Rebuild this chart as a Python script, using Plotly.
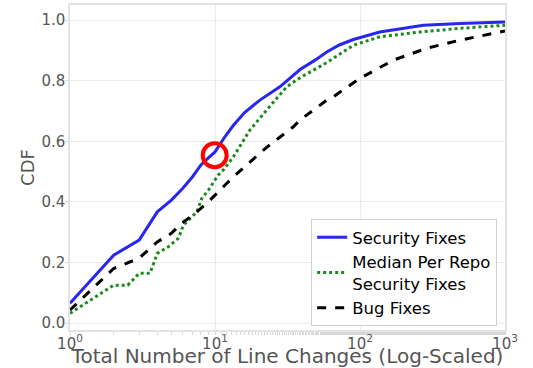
import plotly.graph_objects as go

# Security Fixes (blue, solid)
sec_x = [1, 2, 3, 4, 5, 6, 7, 8, 9, 10, 11.7, 13.4, 16, 20.4, 28, 38.6, 49, 59, 72, 90, 137, 200, 274, 490, 1000]
sec_y = [0.065, 0.224, 0.274, 0.367, 0.406, 0.445, 0.483, 0.522, 0.545, 0.565, 0.615, 0.653, 0.695, 0.736, 0.78,
         0.837, 0.868, 0.895, 0.918, 0.936, 0.961, 0.974, 0.983, 0.989, 0.994]

# Median Per Repo Security Fixes (green, dotted)
med_x = [1, 1.27, 2, 2.5, 3, 3.56, 4, 4.77, 5.6, 6.05, 7.5, 8.1, 9, 10.5, 11.4, 13.4, 17.4, 22.7, 31.2, 38.6,
         59, 90, 137, 260, 490, 1000]
med_y = [0.032, 0.065, 0.125, 0.125, 0.164, 0.164, 0.23, 0.252, 0.28, 0.323, 0.367, 0.411, 0.439, 0.488, 0.505,
         0.549, 0.637, 0.703, 0.78, 0.81, 0.86, 0.917, 0.945, 0.961, 0.973, 0.983]

# Bug Fixes (black, dashed)
bug_x = [1, 2, 3, 4, 5, 5.9, 7.5, 9, 11.7, 13.4, 22.7, 34.7, 38.6, 59, 65.5, 100, 170, 288, 490, 1000]
bug_y = [0.043, 0.18, 0.214, 0.268, 0.296, 0.329, 0.367, 0.4, 0.455, 0.483, 0.58, 0.648, 0.67, 0.736, 0.747,
         0.808, 0.868, 0.907, 0.934, 0.964]

# highlighted point (red circle)
hl_x = [9.95]
hl_y = [0.554]

x_tickvals = [1, 10, 100, 1000]
x_ticktext = ["10<sup>0</sup>", "10<sup>1</sup>", "10<sup>2</sup>", "10<sup>3</sup>"]
y_tickvals = [0.0, 0.2, 0.4, 0.6, 0.8, 1.0]
y_ticktext = ["0.0", "0.2", "0.4", "0.6", "0.8", "1.0"]

FONT = "DejaVu Sans"
TXT = "#555555"

fig = go.Figure()
fig.add_trace(go.Scatter(x=sec_x, y=sec_y, mode="lines", name="Security Fixes",
                         line=dict(color="#2727f0", width=3)))
fig.add_trace(go.Scatter(x=med_x, y=med_y, mode="lines", name="Median Per Repo<br>Security Fixes",
                         line=dict(color="#1a8a1a", width=3, dash="dot")))
fig.add_trace(go.Scatter(x=bug_x, y=bug_y, mode="lines", name="Bug Fixes",
                         line=dict(color="black", width=3, dash="dash")))
fig.add_trace(go.Scatter(x=hl_x, y=hl_y, mode="markers", showlegend=False,
                         marker=dict(symbol="circle-open", size=24, color="red",
                                     line=dict(color="red", width=4))))

fig.update_layout(
    width=533, height=368,
    margin=dict(l=70, r=28, t=5, b=38),
    paper_bgcolor="white", plot_bgcolor="white",
    font=dict(family=FONT, color=TXT, size=15),
    legend=dict(x=0.982, y=0.012, xanchor="right", yanchor="bottom",
                bgcolor="white", bordercolor="#d0d0d0", borderwidth=1,
                font=dict(family=FONT, size=16.5, color="black"),
                tracegroupgap=0),
    xaxis=dict(type="log", range=[0, 3], tickvals=x_tickvals, ticktext=x_ticktext,
               automargin=False, ticklabelstandoff=-4,
               showgrid=True, gridcolor="#ebebeb", gridwidth=1,
               showline=True, linecolor="#e3e3e3", linewidth=1.5, mirror=True,
               zeroline=False, ticks="outside", ticklen=3, tickcolor="#d8d8d8",
               tickfont=dict(size=15, color=TXT),
               minor=dict(ticks="outside", ticklen=3, tickcolor="#d8d8d8", showgrid=False),
               title=dict(text="Total Number of Line Changes (Log-Scaled)",
                          font=dict(size=20, color=TXT), standoff=2)),
    yaxis=dict(range=[-0.023, 1.05], tickvals=y_tickvals, ticktext=y_ticktext,
               automargin=False, ticklabelstandoff=-3,
               showgrid=True, gridcolor="#ebebeb", gridwidth=1,
               showline=True, linecolor="#e3e3e3", linewidth=1.5, mirror=True,
               zeroline=False, ticks="outside", ticklen=3, tickcolor="#d8d8d8",
               tickfont=dict(size=15, color=TXT),
               title=dict(text="CDF", font=dict(size=18, color=TXT), standoff=2)),
)

fig.write_html("out.html", config={"displayModeBar": False},
               post_script="document.body.style.margin='0';")
